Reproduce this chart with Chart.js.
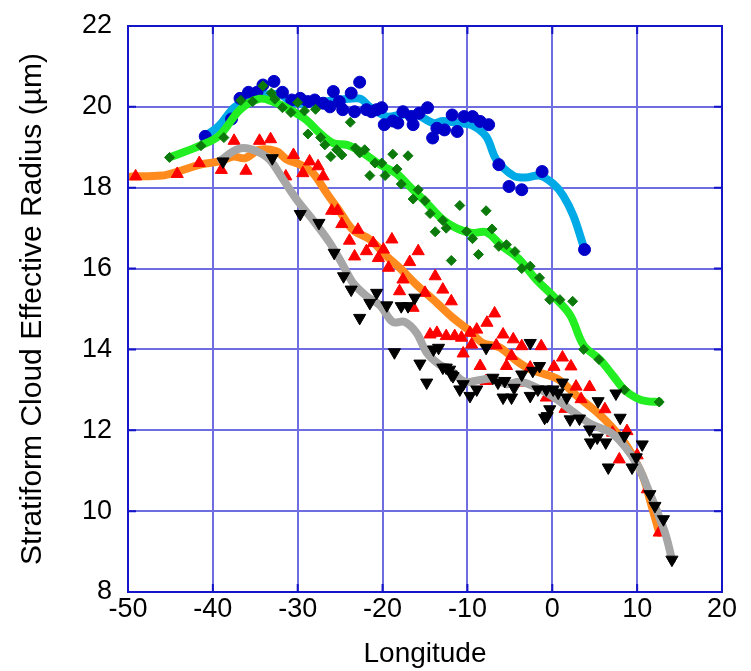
<!DOCTYPE html>
<html>
<head>
<meta charset="utf-8">
<script src="https://cdn.jsdelivr.net/npm/chart.js@4.4.1/dist/chart.umd.min.js"></script>
<style>
  body { margin: 0; background: #fff; }
  canvas { display: block; }
</style>
</head>
<body>
<canvas id="reChart" width="751" height="671"></canvas>
<script>
// Оси
const xTicks = [-50, -40, -30, -20, -10, 0, 10, 20];
const yTicks = [8, 10, 12, 14, 16, 18, 20, 22];

// Синие кружки и сглаженная голубая линия
const blueX = [-40.9, -37.8, -36.8, -35.8, -34.8, -34.1, -32.8, -31.8, -30.7, -29.7, -28.8, -28.0, -27.0, -26.2, -25.8, -25.1, -24.7, -23.7, -23.3, -22.7, -21.9, -21.3, -20.7, -20.1, -19.8, -18.8, -18.2, -17.6, -16.6, -16.4, -15.7, -14.7, -14.1, -13.6, -12.7, -11.8, -11.2, -10.4, -9.4, -8.5, -7.5, -6.3, -5.1, -3.6, -1.2, 3.8];
const blueY = [19.27, 19.70, 20.21, 20.36, 20.36, 20.54, 20.63, 20.36, 20.17, 20.21, 20.13, 20.17, 20.09, 20.0, 20.38, 20.13, 19.93, 20.34, 19.88, 20.61, 19.93, 19.88, 19.93, 19.98, 19.56, 19.65, 19.60, 19.88, 19.76, 19.56, 19.84, 19.98, 19.23, 19.47, 19.43, 19.80, 19.39, 19.76, 19.76, 19.64, 19.56, 18.57, 18.03, 17.95, 18.40, 16.47];
const cyanX = [-40.9, -39.2, -37.4, -35.2, -34.0, -32.1, -30.5, -28.0, -26.0, -24.0, -22.6, -21.5, -19.5, -18.0, -16.0, -14.0, -12.9, -11.1, -9.5, -7.8, -6.6, -4.6, -3.1, -1.5, 0.1, 1.3, 2.5, 3.8];
const cyanY = [19.27, 19.55, 20.0, 20.2, 20.3, 20.3, 20.1, 20.1, 20.15, 20.2, 20.2, 20.0, 19.76, 19.8, 19.8, 19.6, 19.65, 19.6, 19.55, 19.27, 18.7, 18.3, 18.25, 18.3, 18.1, 17.8, 17.3, 16.47];

// Зелёные ромбы и светло-зелёная линия
const diaX = [-45.1, -41.4, -38.7, -36.7, -35.3, -34.1, -33.1, -32.7, -31.8, -30.8, -30.0, -29.2, -28.8, -27.9, -27.3, -26.8, -26.1, -25.4, -24.8, -23.8, -23.2, -22.7, -22.1, -21.5, -20.9, -20.1, -19.7, -18.8, -18.3, -17.8, -17.0, -16.4, -15.8, -15.0, -14.4, -13.8, -12.9, -12.5, -11.9, -10.9, -10.1, -9.4, -8.7, -7.8, -7.1, -6.3, -5.4, -4.4, -3.6, -2.6, -1.5, -0.3, 0.9, 2.4, 3.7, 5.5, 8.5, 12.6];
const diaY = [18.75, 19.04, 19.24, 20.16, 20.13, 20.52, 20.34, 20.19, 19.98, 19.86, 20.11, 19.90, 19.33, 19.94, 19.24, 19.06, 18.77, 18.94, 18.81, 19.62, 18.98, 18.86, 18.94, 18.30, 18.61, 18.61, 18.30, 18.83, 18.46, 18.09, 18.79, 17.72, 17.95, 17.68, 17.36, 16.91, 17.19, 17.0, 16.2, 17.56, 16.92, 16.74, 16.35, 17.43, 16.98, 16.55, 16.59, 16.42, 16.0, 16.06, 15.77, 15.23, 15.23, 15.19, 14.0, 13.75, 13.0, 12.7];
const limeX = [-45.1, -41.5, -39.2, -36.8, -34.5, -32.6, -30.9, -29.0, -27.4, -25.8, -24.2, -22.3, -20.3, -18.4, -16.8, -14.8, -12.9, -11.3, -9.5, -7.8, -6.0, -4.0, -1.9, 0.1, 2.1, 3.7, 5.6, 7.2, 8.5, 9.9, 11.1, 12.6];
const limeY = [18.75, 19.04, 19.3, 19.93, 20.2, 20.1, 19.93, 19.68, 19.35, 19.1, 19.06, 18.86, 18.57, 18.36, 18.03, 17.62, 17.21, 17.0, 16.88, 16.9, 16.57, 16.25, 15.73, 15.32, 14.85, 14.1, 13.75, 13.34, 13.0, 12.8, 12.72, 12.7];

// Красные треугольники и оранжевая линия
const redX = [-49.1, -44.2, -41.6, -39.0, -37.5, -36.1, -34.5, -33.2, -31.4, -30.5, -29.4, -28.6, -27.6, -27.0, -26.0, -25.3, -24.8, -23.9, -23.3, -22.9, -21.9, -21.1, -20.5, -19.9, -19.3, -18.9, -18.0, -17.6, -16.8, -16.4, -15.8, -15.0, -14.4, -13.8, -13.6, -12.9, -12.5, -11.9, -11.5, -10.7, -10.5, -9.7, -9.5, -8.9, -8.5, -7.8, -7.7, -6.8, -6.6, -5.8, -5.4, -4.8, -4.6, -3.6, -3.6, -2.6, -1.3, -0.7, 0.2, 1.2, 1.5, 2.2, 2.8, 3.4, 4.4, 6.2, 7.1, 7.9, 8.8, 10.0, 11.2, 12.6];
const redY = [18.28, 18.34, 18.61, 18.44, 19.16, 18.42, 19.16, 19.20, 18.28, 18.81, 18.36, 18.65, 18.53, 18.28, 17.43, 17.43, 17.10, 16.69, 16.30, 16.96, 16.43, 16.63, 16.26, 16.47, 16.02, 16.72, 15.44, 15.73, 16.16, 15.03, 16.43, 15.40, 14.37, 15.81, 14.41, 15.48, 14.33, 15.19, 14.33, 14.29, 13.90, 14.41, 14.12, 14.49, 13.59, 13.22, 14.66, 14.89, 14.1, 14.37, 13.59, 13.84, 14.25, 14.08, 13.18, 13.55, 14.08, 12.81, 13.57, 13.80, 12.53, 13.58, 13.08, 12.77, 13.07, 12.52, 11.94, 11.28, 11.98, 11.38, 10.54, 9.47];
const orangeX = [-49.6, -46.0, -44.1, -41.5, -39.2, -37.6, -36.2, -34.5, -32.5, -31.3, -29.7, -28.2, -26.6, -25.0, -23.5, -21.5, -19.5, -18.0, -16.0, -13.6, -11.7, -9.7, -8.2, -6.2, -4.6, -3.0, -1.4, 0.7, 2.9, 5.3, 6.9, 8.5, 9.7, 10.8, 11.6, 12.6];
const orangeY = [18.28, 18.3, 18.4, 18.57, 18.65, 18.77, 18.73, 18.94, 18.9, 18.7, 18.57, 18.36, 17.87, 17.4, 16.96, 16.72, 16.30, 16.02, 15.6, 15.15, 14.78, 14.45, 14.16, 14.05, 13.78, 13.55, 13.42, 13.26, 12.85, 12.44, 12.11, 11.7, 11.28, 10.79, 10.21, 9.47];

// Чёрные перевёрнутые треугольники и серая линия
const blackX = [-38.8, -33.0, -29.7, -27.5, -25.7, -24.6, -23.7, -22.7, -21.5, -20.7, -19.5, -18.6, -17.8, -17.0, -16.2, -15.6, -14.8, -14.0, -13.4, -12.9, -12.5, -12.1, -11.9, -11.7, -10.9, -10.5, -9.7, -8.9, -7.8, -7.0, -6.4, -5.8, -5.6, -4.8, -4.5, -3.6, -2.6, -2.6, -2.3, -1.7, -1.5, -0.9, -0.7, -0.6, -0.3, 0.1, 0.7, 1.2, 1.7, 2.1, 3.2, 4.4, 4.5, 5.3, 5.4, 6.3, 6.6, 7.5, 8.0, 8.5, 9.4, 9.9, 10.6, 11.5, 12.1, 13.1, 14.1];
const blackY = [18.65, 18.73, 17.35, 17.13, 16.39, 15.81, 15.48, 14.78, 15.15, 15.40, 15.09, 13.93, 15.07, 15.07, 15.28, 13.65, 13.18, 14.0, 14.04, 13.55, 13.55, 13.50, 13.38, 13.34, 13.01, 13.14, 12.85, 13.01, 14.04, 13.30, 13.18, 12.81, 13.22, 12.81, 13.05, 13.38, 14.16, 12.85, 13.47, 13.01, 13.59, 12.31, 13.01, 12.35, 12.52, 13.01, 12.93, 13.18, 12.81, 12.27, 12.29, 12.02, 11.70, 11.82, 12.72, 11.70, 11.08, 12.91, 12.31, 11.86, 11.08, 11.33, 11.65, 10.42, 10.13, 9.80, 8.8];
const grayX = [-39.0, -37.6, -36.4, -34.8, -33.3, -31.7, -30.1, -28.2, -26.2, -24.6, -23.5, -21.9, -20.3, -18.8, -17.4, -16.0, -14.8, -13.4, -12.1, -10.3, -8.7, -7.0, -5.4, -3.8, -1.6, 0.5, 2.5, 4.6, 6.9, 8.5, 10.1, 11.3, 12.4, 13.4, 14.1];
const grayY = [18.69, 18.9, 18.98, 18.9, 18.69, 18.2, 17.70, 17.2, 16.63, 16.06, 15.65, 15.32, 15.09, 14.68, 14.68, 14.41, 13.92, 13.64, 13.5, 13.2, 13.24, 13.28, 13.14, 13.2, 13.03, 12.77, 12.45, 12.15, 11.94, 11.61, 11.12, 10.54, 9.97, 9.39, 8.8];

function toPoints(xs, ys) {
    return xs.map((x, i) => ({ x: x, y: ys[i] }));
}

function lineSet(xs, ys, color) {
    return {
        data: toPoints(xs, ys),
        showLine: true,
        borderColor: color,
        borderWidth: 8,
        pointRadius: 0,
        tension: 0.35,
        borderCapStyle: 'round',
        borderJoinStyle: 'round'
    };
}

function markerSet(xs, ys, color, style, radius, rotation) {
    return {
        data: toPoints(xs, ys),
        showLine: false,
        pointStyle: style,
        pointRadius: radius,
        pointRotation: rotation || 0,
        backgroundColor: color,
        borderColor: color,
        borderWidth: 1
    };
}

// Рамка и внутренние штрихи осей
const frame = {
    id: 'frame',
    afterDraw(chart) {
        const { ctx, chartArea: a, scales } = chart;
        ctx.save();
        ctx.strokeStyle = '#1414c8';
        ctx.lineWidth = 2;
        ctx.strokeRect(a.left, a.top, a.right - a.left, a.bottom - a.top);
        ctx.beginPath();
        yTicks.forEach(v => {
            const p = scales.y.getPixelForValue(v);
            ctx.moveTo(a.left, p); ctx.lineTo(a.left + 8, p);
            ctx.moveTo(a.right, p); ctx.lineTo(a.right - 8, p);
        });
        xTicks.forEach(v => {
            const p = scales.x.getPixelForValue(v);
            ctx.moveTo(p, a.bottom); ctx.lineTo(p, a.bottom - 8);
            ctx.moveTo(p, a.top); ctx.lineTo(p, a.top + 8);
        });
        ctx.stroke();
        ctx.restore();
    }
};

const family = 'Liberation Sans, Arial, sans-serif';

new Chart(document.getElementById('reChart').getContext('2d'), {
    type: 'scatter',
    data: {
        datasets: [
            markerSet(blackX, blackY, '#000000', 'triangle', 7, 180),
            lineSet(grayX, grayY, '#a6a6a6'),
            markerSet(redX, redY, '#ff0000', 'triangle', 7, 0),
            lineSet(orangeX, orangeY, '#ff8a1e'),
            markerSet(diaX, diaY, '#0b7a0b', 'rectRot', 5, 0),
            lineSet(limeX, limeY, '#22ee22'),
            markerSet(blueX, blueY, '#0000c8', 'circle', 6, 0),
            lineSet(cyanX, cyanY, '#00aae6')
        ]
    },
    options: {
        responsive: false,
        animation: false,
        layout: { padding: { top: 26, right: 29, left: 0, bottom: 0 } },
        plugins: { legend: { display: false }, tooltip: { enabled: false } },
        scales: {
            x: {
                type: 'linear',
                min: -50,
                max: 20,
                afterFit(scale) {
                    scale.height = 79;
                    scale.paddingLeft = 0;
                    scale.paddingRight = 0;
                },
                afterBuildTicks(scale) { scale.ticks = xTicks.map(v => ({ value: v })); },
                ticks: { color: '#000', font: { family: family, size: 27 }, padding: 1, maxRotation: 0 },
                grid: { color: '#6e6ee0', lineWidth: 2, drawTicks: false },
                border: { display: false },
                title: { display: true, text: 'Longitude', color: '#000', font: { family: family, size: 28 }, padding: { top: 0, bottom: 0 } }
            },
            y: {
                type: 'linear',
                min: 8,
                max: 22,
                afterFit(scale) {
                    scale.width = 128;
                    scale.paddingTop = 0;
                    scale.paddingBottom = 0;
                },
                afterBuildTicks(scale) { scale.ticks = yTicks.map(v => ({ value: v })); },
                ticks: { color: '#000', font: { family: family, size: 27 }, padding: 16 },
                grid: { color: '#6e6ee0', lineWidth: 2, drawTicks: false },
                border: { display: false },
                title: { display: true, text: 'Stratiform Cloud Effective Radius (µm)', color: '#000', font: { family: family, size: 30 }, padding: { top: 15, bottom: 0 } }
            }
        }
    },
    plugins: [frame]
});
</script>
</body>
</html>
